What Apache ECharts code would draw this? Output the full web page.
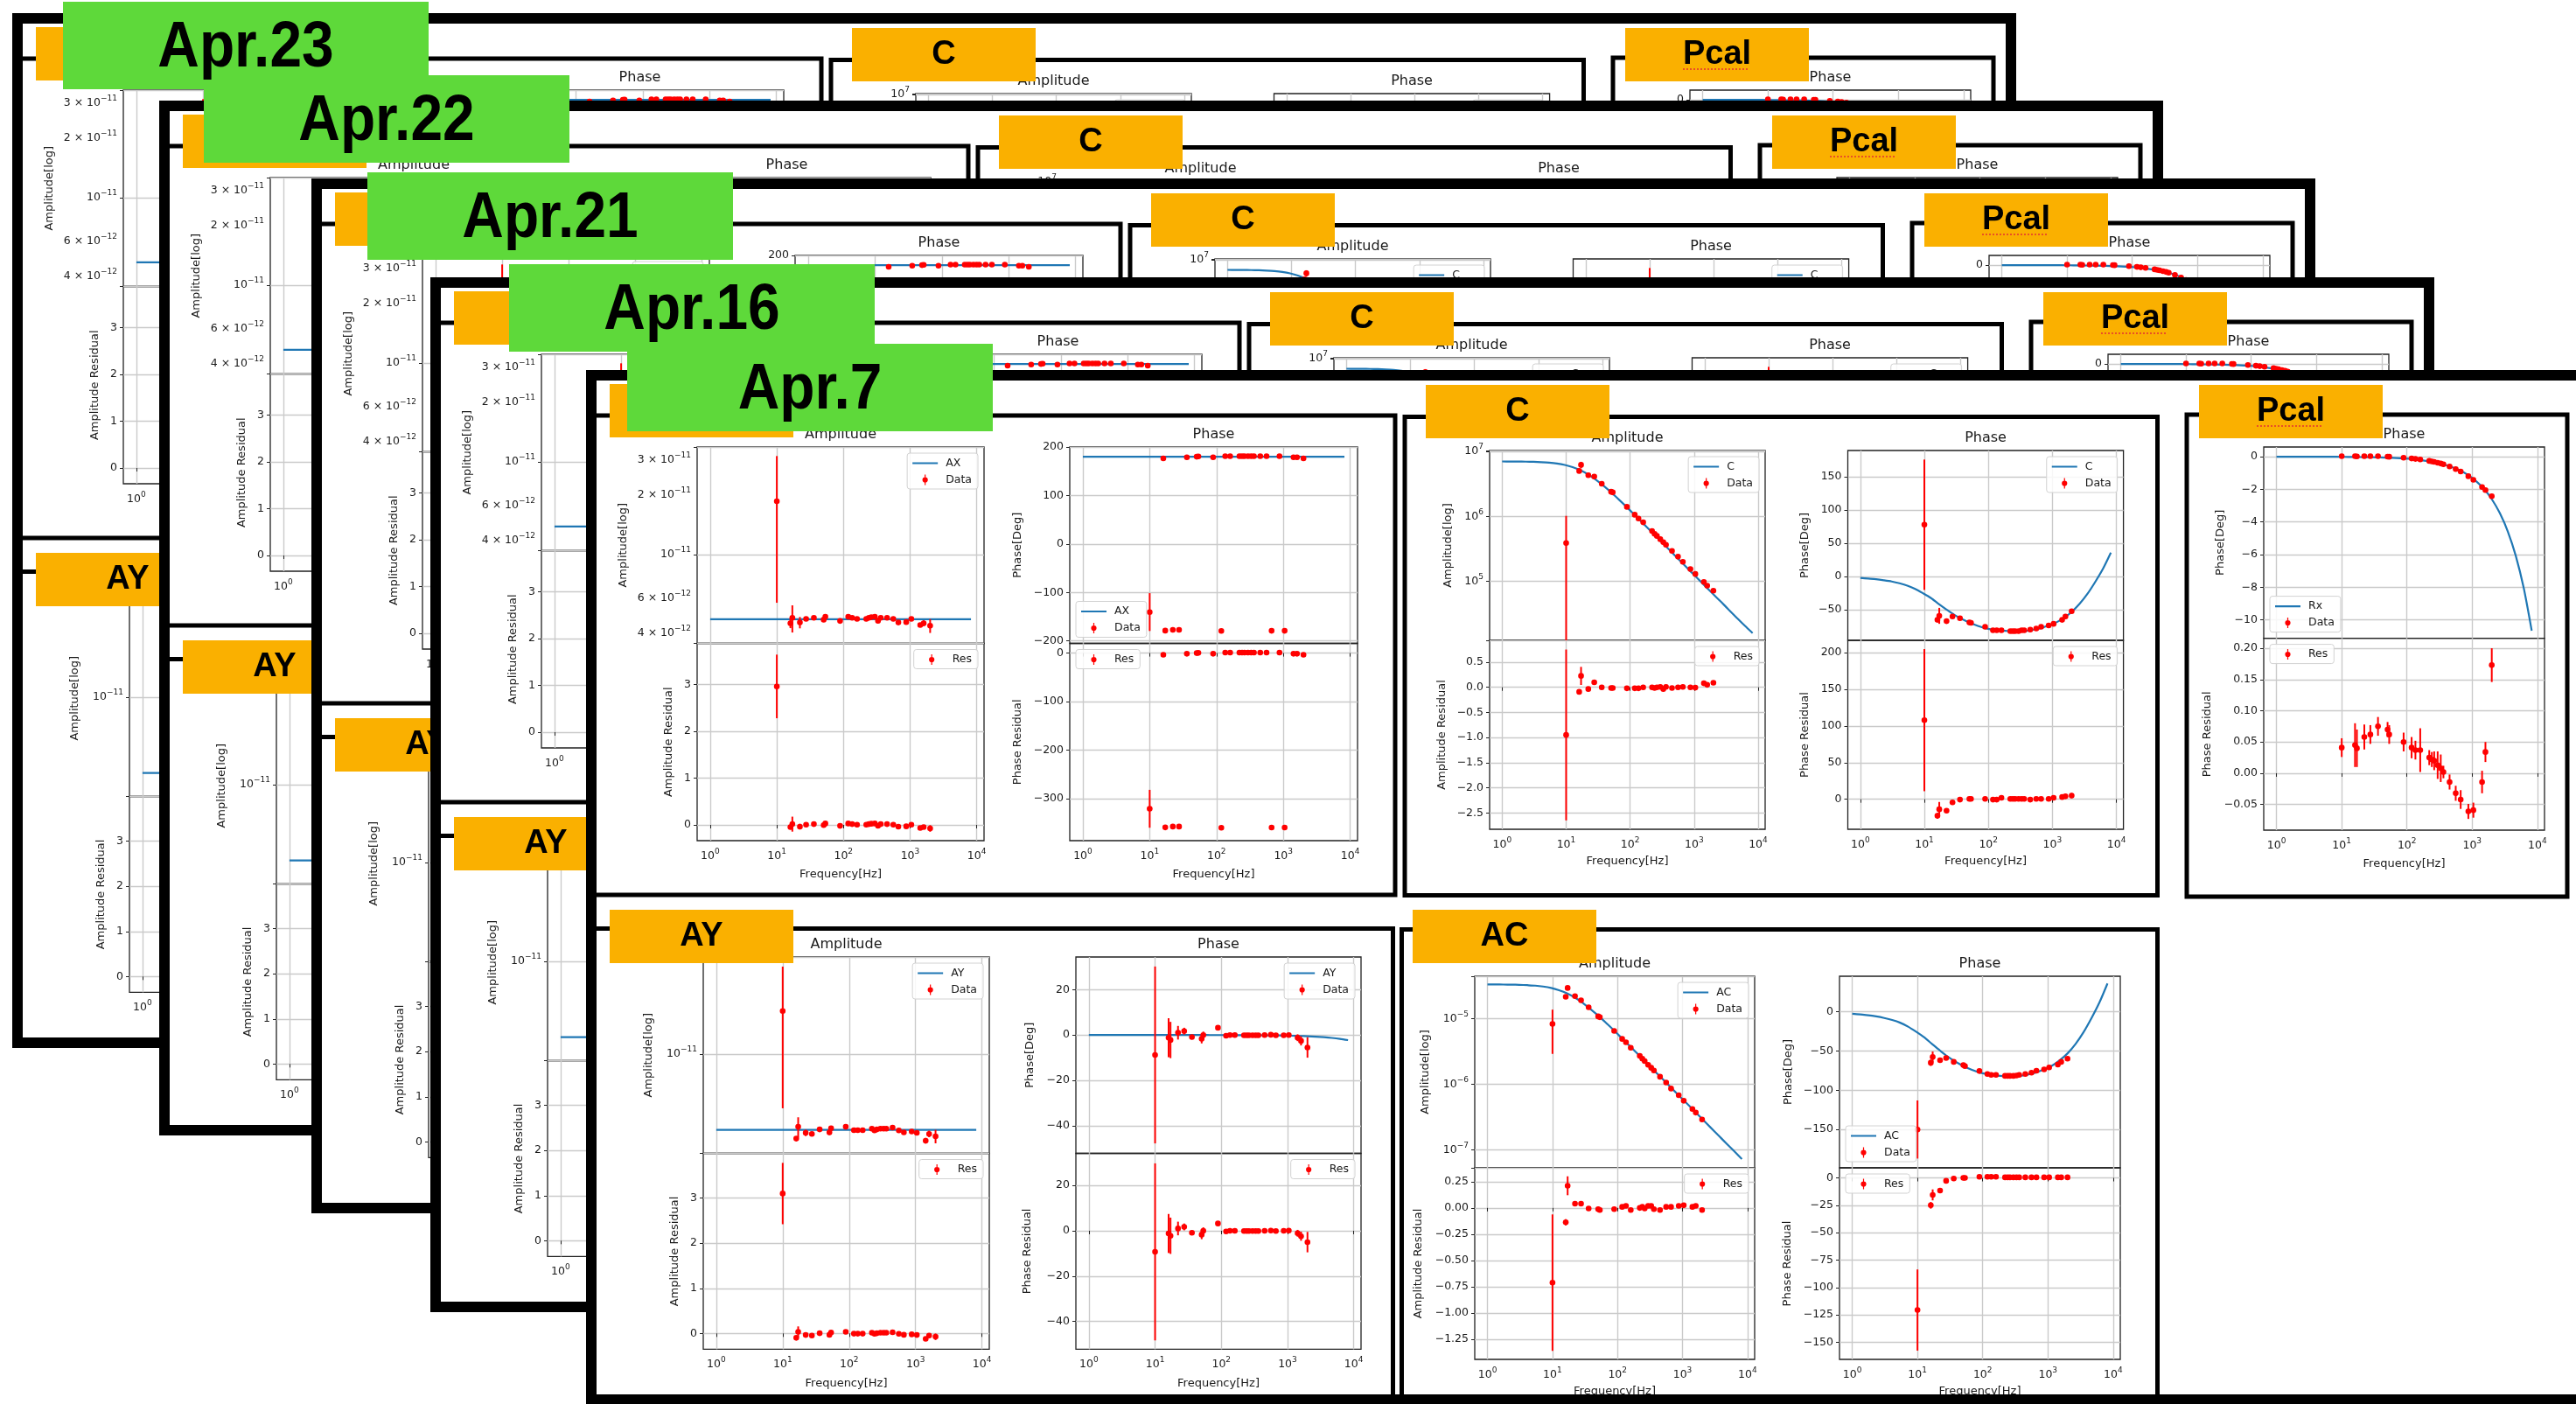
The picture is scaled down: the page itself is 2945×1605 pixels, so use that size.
<!DOCTYPE html>
<html><head><meta charset="utf-8">
<script src="https://cdn.jsdelivr.net/npm/echarts@6/dist/echarts.min.js"></script>
<style>
html,body{margin:0;padding:0;background:#fff;}
#page{position:relative;width:2945px;height:1605px;overflow:hidden;background:#fff;}
.slide{position:absolute;width:2291px;height:1183px;background:#fff;}
#overlay{position:absolute;left:0;top:0;width:2945px;height:1605px;}
</style></head><body>
<div id="page"></div>
<script>
// ================= DATA =================
const slideDates = ['Apr.23', 'Apr.22', 'Apr.21', 'Apr.16', 'Apr.7'];
const panelNames = ['AX', 'C', 'Pcal', 'AY', 'AC'];

// measurement frequencies [Hz]
const freq = [10, 16, 17.1, 22.2, 27.5, 36, 50.5, 53.5, 89, 118, 135, 160, 220, 241, 262, 296, 330, 363, 451, 560, 667, 875, 1045, 1420, 1600, 2000];
// frequencies where the model curves were read
const fLine = [1, 1.33, 1.76, 2.33, 3.09, 4.09, 5.42, 7.18, 9.52, 12.6, 16.7, 22.2, 29.4, 38.9, 51.6, 68.4, 90.6, 120, 159, 211, 279, 370, 491, 651, 862, 1143, 1514, 2007, 2659, 3525, 4670, 6190, 8200];
const fFlat = [1, 8200];
const freqTicks = [1, 10, 100, 1000, 10000];

// ---- AX ----
const axAmpLine = [4.7e-12, 4.7e-12];
const axAmp = [1.86e-11, 4.49e-12, 4.78e-12, 4.53e-12, 4.72e-12, 4.78e-12, 4.68e-12, 4.84e-12, 4.61e-12, 4.84e-12, 4.78e-12, 4.72e-12, 4.72e-12, 4.78e-12, 4.82e-12, 4.84e-12, 4.62e-12, 4.78e-12, 4.78e-12, 4.72e-12, 4.53e-12, 4.55e-12, 4.72e-12, 4.40e-12, 4.49e-12, 4.36e-12];
const axAmpErr = [1.29e-11, 2.5e-13, 7.5e-13, 3e-13, 1e-13, 8e-14, 1e-13, 1.2e-13, 1e-13, 8e-14, 8e-14, 8e-14, 8e-14, 8e-14, 1e-13, 1e-13, 8e-14, 8e-14, 8e-14, 8e-14, 8e-14, 8e-14, 1e-13, 1e-13, 1.5e-13, 3.5e-13];
const axAmpRes = [2.96, -0.045, 0.017, -0.036, 0.004, 0.017, -0.004, 0.03, -0.02, 0.03, 0.017, 0.004, 0.004, 0.017, 0.026, 0.03, -0.017, 0.017, 0.017, 0.004, -0.036, -0.03, 0.004, -0.064, -0.045, -0.075];
const axAmpResErr = [0.68, 0.05, 0.16, 0.06, 0.02, 0.02, 0.02, 0.03, 0.02, 0.02, 0.02, 0.02, 0.02, 0.02, 0.02, 0.02, 0.02, 0.02, 0.02, 0.02, 0.02, 0.02, 0.02, 0.02, 0.03, 0.07];
const axPhLine = [180, 180];
const axPh = [-140.4, 176.5, -178.7, -177, -177, 178.7, 180, 180.5, 178.7, -179.4, 181, 181, 181, 181, 181, 181, 181, 181, 181, 181, -179, 181, -179, 178.7, 178.7, 176.5];
const axPhErr = [39, 4, 4, 3, 2, 1.5, 1.5, 2, 1.5, 1.5, 1.5, 1.5, 1.5, 1.5, 1.5, 1.5, 1.5, 1.5, 1.5, 1.5, 1.5, 1.5, 1.5, 2, 2, 3];
const axPhRes = [-320.4, -3.5, -358.7, -357, -357, -1.3, 0, 0.5, -1.3, -359.4, 1, 1, 1, 1, 1, 1, 1, 1, 1, 1, -359, 1, -359, -1.3, -1.3, -3.5];
const axPhResErr = [39, 4, 4, 3, 2, 1.5, 1.5, 2, 1.5, 1.5, 1.5, 1.5, 1.5, 1.5, 1.5, 1.5, 1.5, 1.5, 1.5, 1.5, 1.5, 1.5, 1.5, 2, 2, 3];
const axAmpTicks = [4e-12, 6e-12, 1e-11, 2e-11, 3e-11];
const axAmpResTicks = [0, 1, 2, 3];
const axPhTicks = [-200, -100, 0, 100, 200];
const axPhResTicks = [-300, -200, -100, 0];

// ---- C ----
const cAmpLine = [6.99e6, 6.98e6, 6.97e6, 6.94e6, 6.90e6, 6.82e6, 6.70e6, 6.50e6, 6.18e6, 5.72e6, 5.12e6, 4.39e6, 3.64e6, 2.92e6, 2.29e6, 1.77e6, 1.36e6, 1.03e6, 7.84e5, 5.92e5, 4.49e5, 3.38e5, 2.55e5, 1.92e5, 1.45e5, 1.10e5, 8.3e4, 6.3e4, 4.8e4, 3.62e4, 2.74e4, 2.08e4, 1.6e4];
const cAmp = [3.88e5, 4.99e6, 6.2e6, 4.3e6, 4.1e6, 3.17e6, 2.39e6, 2.34e6, 1.4e6, 1.06e6, 9.25e5, 8.1e5, 5.95e5, 5.4e5, 5.0e5, 4.45e5, 4.0e5, 3.65e5, 2.95e5, 2.4e5, 2.0e5, 1.55e5, 1.3e5, 9.8e4, 8.6e4, 7.2e4];
const cAmpErr = [6.3e5, 2e5, 7e5, 1.5e5, 1.2e5, 8e4, 6e4, 5e4, 3e4, 2e4, 2e4, 1.5e4, 1e4, 1e4, 8e3, 8e3, 7e3, 6e3, 5e3, 4e3, 4e3, 3e3, 3e3, 2e3, 2e3, 3e3];
const cAmpRes = [-0.948, -0.09, 0.227, -0.034, 0.1, 0, -0.015, -0.015, -0.02, -0.02, -0.02, 0, 0, -0.015, 0, 0.007, -0.034, 0.007, -0.015, 0, 0.007, 0, -0.007, 0.08, 0.05, 0.09];
const cAmpResErr = [1.7, 0.04, 0.18, 0.03, 0.03, 0.02, 0.02, 0.02, 0.015, 0.015, 0.015, 0.015, 0.015, 0.015, 0.015, 0.015, 0.015, 0.015, 0.015, 0.015, 0.015, 0.015, 0.015, 0.02, 0.02, 0.04];
const cPhLine = [-2, -3, -4, -5.5, -7.3, -10, -13.5, -18.5, -25, -32, -41, -49.5, -57.5, -64, -69.5, -74, -77.5, -79.8, -81.2, -82, -82.2, -81.8, -80, -77.5, -73.5, -69, -62, -53, -41, -26, -8, 12, 36];
const cPh = [78, -65, -59, -67, -60, -62.5, -69, -69.5, -75.5, -80.7, -80.7, -80.7, -82, -82, -82, -82, -80.7, -80.7, -79.7, -78, -75.5, -73.4, -71, -65, -60, -52];
const cPhErr = [98, 3, 12, 3, 3, 2, 2, 2, 1.5, 1, 1, 1, 1, 1, 1, 1, 1, 1, 1, 1, 1, 1, 1.5, 2, 2, 3.5];
const cPhRes = [108, -22.6, -13.7, -15.6, -4.2, -0.5, 0.5, 0.5, 0.5, -0.5, -0.5, 2, 0.5, 0.5, 0.5, 0.5, 0.5, 0.5, -0.5, 0.5, 0.5, 0.5, 2, 3, 4, 5];
const cPhResErr = [97, 4, 10, 3, 3, 2, 2, 2, 1.5, 1, 1, 1, 1, 1, 1, 1, 1, 1, 1, 1, 1, 1, 1.5, 2, 2, 3.5];
const cAmpTicks = [1e5, 1e6, 1e7];
const cAmpResTicks = [-2.5, -2, -1.5, -1, -0.5, 0, 0.5];
const cPhTicks = [-50, 0, 50, 100, 150];
const cPhResTicks = [0, 50, 100, 150, 200];

// ---- Pcal ----
const pcalLine = [-0.001, -0.002, -0.002, -0.003, -0.004, -0.005, -0.007, -0.009, -0.012, -0.016, -0.022, -0.029, -0.038, -0.051, -0.067, -0.089, -0.118, -0.156, -0.207, -0.274, -0.363, -0.481, -0.638, -0.846, -1.12, -1.49, -1.97, -2.61, -3.46, -4.58, -6.07, -8.05, -10.66];
const pcalPh = [0.028, 0.024, 0.018, 0.029, 0.026, 0.028, 0.004, -0.008, -0.066, -0.112, -0.139, -0.171, -0.261, -0.291, -0.321, -0.372, -0.421, -0.47, -0.6, -0.76, -0.909, -1.199, -1.418, -1.86, -2.046, -2.427];
const pcalPhErr = [0.015, 0.035, 0.03, 0.02, 0.015, 0.015, 0.012, 0.015, 0.015, 0.017, 0.015, 0.035, 0.012, 0.012, 0.015, 0.022, 0.022, 0.01, 0.012, 0.012, 0.015, 0.012, 0.012, 0.018, 0.016, 0.027];
const pcalRes = [0.041, 0.045, 0.04, 0.058, 0.062, 0.075, 0.07, 0.062, 0.05, 0.041, 0.037, 0.037, 0.025, 0.022, 0.02, 0.013, 0.008, 0.002, -0.014, -0.032, -0.042, -0.061, -0.059, -0.014, 0.034, 0.173];
const pcalResErr = [0.015, 0.035, 0.03, 0.02, 0.015, 0.015, 0.012, 0.015, 0.015, 0.017, 0.015, 0.035, 0.012, 0.012, 0.015, 0.022, 0.022, 0.01, 0.012, 0.012, 0.015, 0.012, 0.012, 0.018, 0.016, 0.027];
const pcalPhTicks = [-10, -8, -6, -4, -2, 0];
const pcalResTicks = [-0.05, 0, 0.05, 0.1, 0.15, 0.2];

// ---- AY ----
const ayAmpLine = [4.12e-12, 4.12e-12];
const ayAmp = [1.65e-11, 3.72e-12, 4.27e-12, 3.98e-12, 3.93e-12, 4.14e-12, 4.0e-12, 4.2e-12, 4.27e-12, 4.1e-12, 4.1e-12, 4.1e-12, 4.18e-12, 4.09e-12, 4.14e-12, 4.18e-12, 4.18e-12, 4.18e-12, 4.23e-12, 4.09e-12, 4.0e-12, 4.04e-12, 3.98e-12, 3.63e-12, 3.93e-12, 3.82e-12];
const ayAmpErr = [1.12e-11, 1e-13, 5e-13, 1.5e-13, 1e-13, 8e-14, 1.2e-13, 1e-13, 8e-14, 8e-14, 8e-14, 8e-14, 8e-14, 8e-14, 8e-14, 8e-14, 8e-14, 8e-14, 8e-14, 8e-14, 8e-14, 8e-14, 8e-14, 1.2e-13, 1.5e-13, 3e-13];
const ayAmpRes = [3.1, -0.097, 0.036, -0.034, -0.046, 0.005, -0.03, 0.02, 0.036, -0.005, -0.005, -0.005, 0.015, -0.007, 0.005, 0.015, 0.015, 0.015, 0.027, -0.007, -0.03, -0.02, -0.034, -0.12, -0.046, -0.073];
const ayAmpResErr = [0.68, 0.03, 0.12, 0.04, 0.03, 0.02, 0.03, 0.02, 0.02, 0.02, 0.02, 0.02, 0.02, 0.02, 0.02, 0.02, 0.02, 0.02, 0.02, 0.02, 0.02, 0.02, 0.02, 0.03, 0.04, 0.07];
const ayPhLine = [0, 0, 0, 0, 0, 0, 0, 0, 0, 0, 0, 0, -0.01, -0.01, -0.01, -0.02, -0.02, -0.03, -0.04, -0.06, -0.08, -0.1, -0.14, -0.18, -0.24, -0.31, -0.42, -0.55, -0.73, -0.97, -1.28, -1.7, -2.25];
const ayPh = [-8.8, -1.2, -2.2, 1.0, 1.7, -0.9, -1.7, 0, 3.2, -0.3, 0, 0, -0.1, -0.1, -0.1, -0.1, -0.1, -0.1, 0, 0.1, -0.1, -0.1, 0, -1.2, -2.6, -5.5];
const ayPhErr = [39, 8.6, 8, 3, 1.5, 1, 2, 1.5, 1, 0.8, 0.8, 0.8, 0.8, 0.8, 0.8, 0.8, 0.8, 0.8, 0.8, 0.8, 0.8, 0.8, 0.8, 1.5, 2, 4.5];
const ayPhRes = [-9.3, -1.2, -2.2, 1.0, 1.7, -0.9, -1.7, 0, 3.2, -0.3, 0, 0, -0.1, -0.1, -0.1, -0.1, -0.1, -0.1, 0, 0.1, -0.1, 0, 0.1, -1.1, -2.4, -5.0];
const ayPhResErr = [39, 8.6, 8, 3, 1.5, 1, 2, 1.5, 1, 0.8, 0.8, 0.8, 0.8, 0.8, 0.8, 0.8, 0.8, 0.8, 0.8, 0.8, 0.8, 0.8, 0.8, 1.5, 2, 4.5];
const ayAmpTicks = [1e-11];
const ayAmpResTicks = [0, 1, 2, 3];
const ayPhTicks = [-40, -20, 0, 20];
const ayPhResTicks = [-40, -20, 0, 20];

// ---- AC ----
const acAmpLine = [3.31e-5, 3.31e-5, 3.30e-5, 3.29e-5, 3.27e-5, 3.23e-5, 3.18e-5, 3.08e-5, 2.93e-5, 2.71e-5, 2.43e-5, 2.08e-5, 1.73e-5, 1.38e-5, 1.09e-5, 8.4e-6, 6.45e-6, 4.88e-6, 3.72e-6, 2.81e-6, 2.13e-6, 1.60e-6, 1.21e-6, 9.1e-7, 6.87e-7, 5.21e-7, 3.92e-7, 2.96e-7, 2.23e-7, 1.68e-7, 1.27e-7, 9.6e-8, 7.25e-8];
const acAmp = [8.3e-6, 2.15e-5, 2.93e-5, 2.2e-5, 1.9e-5, 1.49e-5, 1.08e-5, 1.05e-5, 6.5e-6, 4.9e-6, 4.35e-6, 3.6e-6, 2.7e-6, 2.45e-6, 2.25e-6, 1.98e-6, 1.78e-6, 1.62e-6, 1.3e-6, 1.06e-6, 8.6e-7, 6.8e-7, 5.6e-7, 4.2e-7, 3.7e-7, 2.9e-7];
const acAmpErr = [5.4e-6, 5e-7, 2e-6, 4e-7, 3e-7, 2e-7, 1.5e-7, 1.5e-7, 8e-8, 6e-8, 5e-8, 4e-8, 3e-8, 3e-8, 3e-8, 2e-8, 2e-8, 2e-8, 1.5e-8, 1.2e-8, 1e-8, 8e-9, 6e-9, 5e-9, 5e-9, 5e-9];
const acAmpRes = [-0.712, -0.137, 0.211, 0.04, 0.04, -0.006, -0.012, -0.02, -0.012, 0.01, 0.02, -0.02, 0, 0.01, -0.006, 0.02, 0.02, -0.012, -0.02, 0.01, 0.01, 0.02, 0.025, 0.01, 0.02, -0.02];
const acAmpResErr = [0.65, 0.03, 0.09, 0.02, 0.02, 0.01, 0.01, 0.01, 0.01, 0.01, 0.01, 0.01, 0.01, 0.01, 0.01, 0.01, 0.01, 0.01, 0.01, 0.01, 0.01, 0.01, 0.01, 0.01, 0.01, 0.015];
const acPhLine = [-2.5, -3.5, -4.5, -6, -8, -10.5, -14, -19, -25.5, -32.5, -41, -49.5, -57.5, -64, -69.5, -74, -77.5, -79.8, -81.2, -82, -82.2, -81.8, -80, -77.5, -73.5, -69, -62, -53, -41, -26, -8, 12, 36];
const acPh = [-150, -65, -57.7, -61.8, -58.9, -63.9, -68, -69.3, -75.5, -79.3, -80.5, -80.5, -81.7, -81.7, -81.7, -81.7, -81.3, -80.5, -79.3, -77.6, -75.1, -73.4, -71, -67.2, -63.9, -59.8];
const acPhErr = [37, 4, 7, 2, 2, 1.5, 1, 1, 1, 1, 1, 1, 1, 1, 1, 1, 1, 1, 1, 1, 1, 1, 1, 1, 1.5, 2];
const acPhRes = [-120.5, -25, -15.5, -11.6, -2.7, -0.6, 0, 0, 1, 1, 1, 1, 0.5, 0.5, 0.5, 0.5, 0.5, 0.5, 0.5, 0.5, 0.5, 0.5, 0.5, 0.5, 0.5, 0.5];
const acPhResErr = [37, 3, 5, 2, 2, 1, 1, 1, 1, 1, 1, 1, 1, 1, 1, 1, 1, 1, 1, 1, 1, 1, 1, 1, 1.5, 2];
const acAmpTicks = [1e-7, 1e-6, 1e-5];
const acAmpResTicks = [-1.25, -1, -0.75, -0.5, -0.25, 0, 0.25];
const acPhTicks = [-150, -100, -50, 0];
const acPhResTicks = [-150, -125, -100, -75, -50, -25, 0];

// ================= LAYOUT / STYLE =================
const W = 2291, H = 1183;
const slideOrigins = [[14, 15], [182, 115], [356, 204], [492, 317], [670, 423]];
const greenBoxes = [[72, 2], [233, 86], [420, 197], [582, 302], [717, 393]];
const FONT = '"DejaVu Sans", "Bitstream Vera Sans", Verdana, sans-serif';
const LFONT = '"Liberation Sans", Arial, Helvetica, sans-serif';
const TXT = '#1a1a1a';
const GRIDC = '#cacaca';
const BLUE = '#1f77b4';
const RED = '#ff0000';
const ORANGE = '#FAB000';
const GREEN = '#5ED93A';
const X_MIN = 0.637, X_MAX = 12880;
const DATA_ICON = 'path://M0,6L29,6L0,6Z M13.9,0L15.1,0L15.1,12L13.9,12Z M17.6,6A3.1,3.1,0,1,1,11.4,6A3.1,3.1,0,1,1,17.6,6Z';
const LINE_ICON = 'path://M0,0L29,0L0,0Z M0,5L29,5L29,7.1L0,7.1Z M0,12L29,12L0,12Z';
const RICH = { s: { fontSize: 9, fontFamily: FONT, color: TXT, padding: [0, 0, 10, 0] } };

const BOXES = [
  { box: [0, 52, 925, 600], label: [27, 16] },
  { box: [936, 53.5, 1796.5, 600.5], label: [960, 17] },
  { box: [1830, 51, 2265, 602], label: [1844, 17], underline: true },
  { box: [0, 638.5, 922.5, 1174], label: [27, 617] },
  { box: [932.5, 639.5, 1796.5, 1174], label: [945, 617] }
];

const PLOTS = [
  { x0: 127, x1: 455, yT: 88, yM: 312.5, yB: 538, title: 'Amplitude', xGap: 32.5,
    top: { kind: 'log', min: 3.55e-12, max: 3.5e-11, ticks: axAmpTicks, name: 'Amplitude[log]', gap: 77.5, lineX: fFlat, line: axAmpLine, lineName: 'AX', data: axAmp, err: axAmpErr, dataName: 'Data', corner: 'tr' },
    bot: { kind: 'value', min: -0.336, max: 3.88, step: 1, dec: 0, ticks: axAmpResTicks, name: 'Amplitude Residual', gap: 25.5, data: axAmpRes, err: axAmpResErr, dataName: 'Res', corner: 'tr' } },
  { x0: 553, x1: 882, yT: 88, yM: 312.5, yB: 538, title: 'Phase', xGap: 32.5,
    top: { kind: 'value', min: -205, max: 200, step: 100, dec: 0, ticks: axPhTicks, name: 'Phase[Deg]', gap: 52.5, lineX: fFlat, line: axPhLine, lineName: 'AX', data: axPh, err: axPhErr, dataName: 'Data', corner: 'bl' },
    bot: { kind: 'value', min: -386, max: 20, step: 100, dec: 0, ticks: axPhResTicks, name: 'Phase Residual', gap: 52.5, data: axPhRes, err: axPhResErr, dataName: 'Res', corner: 'tl' } },
  { x0: 1033, x1: 1348, yT: 92, yM: 309, yB: 525, title: 'Amplitude', xGap: 30.5,
    top: { kind: 'log', min: 1.24e4, max: 1.03e7, ticks: cAmpTicks, name: 'Amplitude[log]', gap: 40.5, lineX: fLine, line: cAmpLine, lineName: 'C', data: cAmp, err: cAmpErr, dataName: 'Data', corner: 'tr' },
    bot: { kind: 'value', min: -2.825, max: 0.935, step: 0.5, dec: 1, ticks: cAmpResTicks, name: 'Amplitude Residual', gap: 48, data: cAmpRes, err: cAmpResErr, dataName: 'Res', corner: 'tr' } },
  { x0: 1442.5, x1: 1757.6, yT: 92, yM: 309, yB: 525, title: 'Phase', xGap: 30.5,
    top: { kind: 'value', min: -95.8, max: 189.6, step: 50, dec: 0, ticks: cPhTicks, name: 'Phase[Deg]', gap: 42, lineX: fLine, line: cPhLine, lineName: 'C', data: cPh, err: cPhErr, dataName: 'Data', corner: 'tr' },
    bot: { kind: 'value', min: -41, max: 217, step: 50, dec: 0, ticks: cPhResTicks, name: 'Phase Residual', gap: 42, data: cPhRes, err: cPhResErr, dataName: 'Res', corner: 'tr' } },
  { x0: 1918, x1: 2239, yT: 88, yM: 306.6, yB: 526, title: 'Phase', xGap: 32,
    top: { kind: 'value', min: -11.12, max: 0.59, step: 2, dec: 0, ticks: pcalPhTicks, name: 'Phase[Deg]', gap: 42.5, lineX: fLine, line: pcalLine, lineName: 'Rx', data: pcalPh, err: pcalPhErr, dataName: 'Data', corner: 'bl' },
    bot: { kind: 'value', min: -0.091, max: 0.216, step: 0.05, dec: 2, ticks: pcalResTicks, name: 'Phase Residual', gap: 57.5, data: pcalRes, err: pcalResErr, dataName: 'Res', corner: 'tl' } },
  { x0: 134, x1: 461, yT: 671, yM: 895.5, yB: 1119.4, title: 'Amplitude', xGap: 32.7,
    top: { kind: 'log', min: 3.13e-12, max: 3.1e-11, ticks: ayAmpTicks, name: 'Amplitude[log]', gap: 55.5, lineX: fFlat, line: ayAmpLine, lineName: 'AY', data: ayAmp, err: ayAmpErr, dataName: 'Data', corner: 'tr' },
    bot: { kind: 'value', min: -0.35, max: 3.99, step: 1, dec: 0, ticks: ayAmpResTicks, name: 'Amplitude Residual', gap: 25.5, data: ayAmpRes, err: ayAmpResErr, dataName: 'Res', corner: 'tr' } },
  { x0: 560, x1: 886, yT: 671, yM: 895.5, yB: 1119.4, title: 'Phase', xGap: 32.7,
    top: { kind: 'value', min: -52.2, max: 34.4, step: 20, dec: 0, ticks: ayPhTicks, name: 'Phase[Deg]', gap: 45.5, lineX: fLine, line: ayPhLine, lineName: 'AY', data: ayPh, err: ayPhErr, dataName: 'Data', corner: 'tr' },
    bot: { kind: 'value', min: -52.2, max: 34.1, step: 20, dec: 0, ticks: ayPhResTicks, name: 'Phase Residual', gap: 48.5, data: ayPhRes, err: ayPhResErr, dataName: 'Res', corner: 'tr' } },
  { x0: 1016, x1: 1336, yT: 693, yM: 912, yB: 1131, title: 'Amplitude', xGap: 30.5,
    top: { kind: 'log', min: 5.33e-8, max: 4.42e-5, ticks: acAmpTicks, name: 'Amplitude[log]', gap: 49.5, lineX: fLine, line: acAmpLine, lineName: 'AC', data: acAmp, err: acAmpErr, dataName: 'Data', corner: 'tr' },
    bot: { kind: 'value', min: -1.443, max: 0.382, step: 0.25, dec: 2, ticks: acAmpResTicks, name: 'Amplitude Residual', gap: 58, data: acAmpRes, err: acAmpResErr, dataName: 'Res', corner: 'tr' } },
  { x0: 1433, x1: 1754, yT: 693, yM: 912, yB: 1131, title: 'Phase', xGap: 30.5,
    top: { kind: 'value', min: -198.8, max: 45.2, step: 50, dec: 0, ticks: acPhTicks, name: 'Phase[Deg]', gap: 51.5, lineX: fLine, line: acPhLine, lineName: 'AC', data: acPh, err: acPhErr, dataName: 'Data', corner: 'bl' },
    bot: { kind: 'value', min: -165.5, max: 9.2, step: 25, dec: 0, ticks: acPhResTicks, name: 'Phase Residual', gap: 53, data: acPhRes, err: acPhResErr, dataName: 'Res', corner: 'tl' } }
];

// ================= HELPERS =================
function powLabel(v) {
  const e = Math.floor(Math.log10(v) + 1e-9);
  const m = Math.round(v / Math.pow(10, e) * 1000) / 1000;
  const es = String(e).replace('-', '\u2212');
  return (m === 1 ? '' : m + ' \u00d7 ') + '10{s|' + es + '}';
}
function tickFmt(ticks, kind, dec) {
  return function (v) {
    let hit = null;
    for (const t of ticks) {
      const tol = kind === 'log' ? Math.abs(t) * 1e-6 : Math.max(Math.abs(t) * 1e-6, 1e-9);
      if (Math.abs(v - t) <= tol) { hit = t; break; }
    }
    if (hit === null) return '';
    if (kind === 'log') return powLabel(hit);
    return hit < 0 ? '\u2212' + (-hit).toFixed(dec) : hit.toFixed(dec);
  };
}
function errRender(lo, hi) {
  return function (params, api) {
    const f = api.value(0), v = api.value(1), e = api.value(2);
    const a = Math.max(v - e, lo), b = Math.min(v + e, hi);
    const ch = [];
    if (b > a) {
      const p1 = api.coord([f, a]), p2 = api.coord([f, b]);
      ch.push({ type: 'line', shape: { x1: p1[0], y1: p1[1], x2: p2[0], y2: p2[1] }, style: { stroke: RED, lineWidth: 2 } });
    }
    if (v >= lo && v <= hi) {
      const c = api.coord([f, v]);
      ch.push({ type: 'circle', shape: { cx: c[0], cy: c[1], r: 3.3 }, style: { fill: RED } });
    }
    return { type: 'group', children: ch };
  };
}
function txt(x, y, text, size, opts) {
  opts = opts || {};
  return {
    type: 'text', x: x, y: y, z: opts.z || 6, scaleX: opts.scaleX || 1,
    style: {
      text: text, fontSize: size, fontFamily: opts.family || FONT, fontWeight: opts.weight || 'normal',
      fill: opts.fill || TXT, align: 'center', verticalAlign: 'middle', textAlign: 'center', textVerticalAlign: 'middle'
    }
  };
}

function buildSlideOption() {
  const grid = [], xAxis = [], yAxis = [], series = [], legend = [], elements = [];
  PLOTS.forEach(function (p) {
    const parts = [
      { s: p.top, y0: p.yT, y1: p.yM, bottom: false },
      { s: p.bot, y0: p.yM, y1: p.yB, bottom: true }
    ];
    parts.forEach(function (part) {
      const s = part.s, gi = grid.length;
      grid.push({ left: p.x0, top: part.y0, width: p.x1 - p.x0, height: part.y1 - part.y0,
        show: true, borderColor: '#222', borderWidth: 1.3, containLabel: false, outerBoundsMode: 'none' });
      xAxis.push({
        type: 'log', logBase: 10, gridIndex: gi, min: X_MIN, max: X_MAX,
        axisLine: { show: false },
        axisTick: { show: part.bottom, length: 4, customValues: freqTicks, lineStyle: { color: '#222', width: 1 } },
        axisLabel: { show: part.bottom, customValues: freqTicks, formatter: tickFmt(freqTicks, 'log', 0), margin: 8,
          fontSize: 12.5, fontFamily: FONT, color: TXT, rich: RICH, showMinLabel: true, showMaxLabel: true },
        splitLine: { show: true, lineStyle: { color: GRIDC, width: 1.4 } },
        name: part.bottom ? 'Frequency[Hz]' : '', nameLocation: 'middle', nameGap: p.xGap,
        nameTextStyle: { fontSize: 13, fontFamily: FONT, color: TXT }
      });
      const ya = {
        type: s.kind, gridIndex: gi, min: s.min, max: s.max,
        axisLine: { show: false },
        axisTick: { show: true, length: 4, lineStyle: { color: '#222', width: 1 } },
        axisLabel: { customValues: s.ticks, formatter: tickFmt(s.ticks, s.kind, s.dec || 0), margin: 7,
          fontSize: 12.5, fontFamily: FONT, color: TXT, rich: RICH, showMinLabel: true, showMaxLabel: true },
        splitLine: { show: true, lineStyle: { color: GRIDC, width: 1.4 } },
        name: s.name, nameLocation: 'middle', nameGap: s.gap, nameRotate: 90,
        nameTextStyle: { fontSize: 13, fontFamily: FONT, color: TXT }
      };
      if (s.kind === 'log') { ya.logBase = 10; }
      else { ya.minInterval = s.step; ya.maxInterval = s.step; ya.axisTick.customValues = s.ticks; }
      yAxis.push(ya);

      const legendData = [];
      if (s.line) {
        series.push({
          type: 'line', name: s.lineName, xAxisIndex: gi, yAxisIndex: gi,
          data: s.lineX.map(function (f, i) { return [f, s.line[i]]; }),
          symbol: 'none', smooth: 0.25,
          lineStyle: { color: BLUE, width: 2.2 }, itemStyle: { color: BLUE }, z: 2, silent: true
        });
        legendData.push({ name: s.lineName, icon: LINE_ICON });
      }
      series.push({
        type: 'custom', name: s.dataName, xAxisIndex: gi, yAxisIndex: gi,
        dimensions: ['f', 'v', 'e'], encode: { x: 'f', y: 'v' },
        data: freq.map(function (f, i) { return [f, s.data[i], s.err[i]]; }),
        renderItem: errRender(s.min, s.max), itemStyle: { color: RED }, z: 3, silent: true
      });
      legendData.push({ name: s.dataName, icon: DATA_ICON });

      const L = {
        orient: 'vertical', align: 'left', selectedMode: false, data: legendData,
        itemWidth: 29, itemHeight: 12, itemGap: 6, padding: [5, 7, 4, 6],
        backgroundColor: 'rgba(255,255,255,0.85)', borderColor: '#d2d2d2', borderWidth: 1, borderRadius: 3,
        textStyle: { fontSize: 12.5, fontFamily: FONT, color: TXT, padding: [0, 0, 0, 4] }, z: 8
      };
      const inset = 7;
      if (s.corner === 'tr') { L.right = W - (p.x1 - inset); L.top = part.y0 + inset; }
      else if (s.corner === 'tl') { L.left = p.x0 + inset; L.top = part.y0 + inset; }
      else { L.left = p.x0 + inset; L.bottom = H - (part.y1 - inset); }
      legend.push(L);
    });
    elements.push(txt((p.x0 + p.x1) / 2, p.yT - 14, p.title, 16, { z: 6 }));
  });

  BOXES.forEach(function (b, i) {
    elements.push({ type: 'rect', z: 5, shape: { x: b.box[0], y: b.box[1], width: b.box[2] - b.box[0], height: b.box[3] - b.box[1] },
      style: { fill: 'none', stroke: '#000', lineWidth: 5 } });
    elements.push({ type: 'rect', z: 20, shape: { x: b.label[0], y: b.label[1], width: 210, height: 61 }, style: { fill: ORANGE } });
    elements.push(txt(b.label[0] + 105, b.label[1] + 31, panelNames[i], 38, { z: 21, family: LFONT, weight: 'bold', fill: '#000' }));
    if (b.underline) {
      elements.push({ type: 'line', z: 22, shape: { x1: b.label[0] + 66, y1: b.label[1] + 47, x2: b.label[0] + 141, y2: b.label[1] + 47 },
        style: { stroke: '#e53030', lineWidth: 1.5, lineDash: [2, 2] } });
    }
  });
  elements.push({ type: 'rect', z: 60, shape: { x: 6, y: 6, width: W - 12, height: H - 12 }, style: { fill: 'none', stroke: '#000', lineWidth: 12 } });

  return { animation: false, backgroundColor: 'transparent', grid: grid, xAxis: xAxis, yAxis: yAxis, series: series, legend: legend, graphic: { elements: elements } };
}

// ================= RENDER =================
const page = document.getElementById('page');
slideOrigins.forEach(function (o, i) {
  const d = document.createElement('div');
  d.className = 'slide';
  d.style.left = o[0] + 'px';
  d.style.top = o[1] + 'px';
  d.style.zIndex = String(i + 1);
  page.appendChild(d);
  const ch = echarts.init(d, null, { renderer: 'canvas', width: W, height: H });
  ch.setOption(buildSlideOption());
});

const ov = document.createElement('div');
ov.id = 'overlay';
ov.style.zIndex = '20';
page.appendChild(ov);
const och = echarts.init(ov, null, { renderer: 'canvas', width: 2945, height: 1605 });
const greenEls = [];
greenBoxes.forEach(function (g, i) {
  greenEls.push({ type: 'rect', z: 1, shape: { x: g[0], y: g[1], width: 418, height: 100 }, style: { fill: GREEN } });
  greenEls.push(txt(g[0] + 209, g[1] + 54, slideDates[i], 74, { z: 2, family: LFONT, weight: 'bold', fill: '#000', scaleX: 0.89 }));
});
och.setOption({ animation: false, backgroundColor: 'transparent', graphic: { elements: greenEls } });
</script>
</body></html>
